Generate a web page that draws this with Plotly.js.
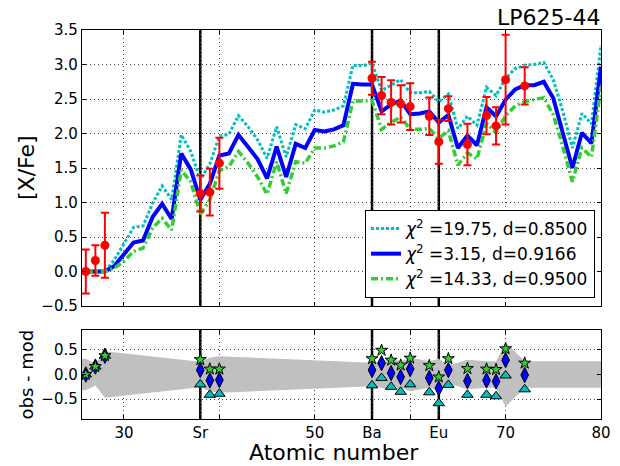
<!DOCTYPE html>
<html>
<head>
<meta charset="utf-8">
<script src="https://cdn.plot.ly/plotly-3.0.1.min.js"></script>
<style>html,body{margin:0;padding:0;background:#fff;}#chart{width:620px;height:466px;}</style>
</head>
<body>
<div id="chart"></div>
<script>
// Model atomic numbers (26..80)
const modelZ = [26,27,28,29,30,31,32,33,34,35,36,37,38,39,40,41,42,43,44,45,46,47,48,49,50,51,52,53,54,55,56,57,58,59,60,61,62,63,64,65,66,67,68,69,70,71,72,73,74,75,76,77,78,79,80];
// chi2 = 19.75, d = 0.8500 (cyan dotted)
const modelCyan = [0,0,0,0.17,0.40,0.64,0.66,0.99,1.24,1.04,1.98,1.74,1.33,1.56,1.96,1.99,2.26,2.10,1.91,1.64,2.10,1.66,2.13,2.07,2.34,2.31,2.34,2.40,2.99,2.98,3.02,2.62,2.70,2.78,2.59,2.59,2.61,2.46,2.57,2.07,2.25,2.12,2.67,2.55,2.80,2.94,2.99,3.00,3.03,2.78,2.32,1.79,2.29,2.14,3.28];
// chi2 = 3.15, d = 0.9166 (blue solid)
const modelBlue = [0,0,0,0.08,0.24,0.42,0.45,0.79,0.98,0.76,1.71,1.48,1.04,1.27,1.68,1.71,1.98,1.80,1.63,1.35,1.81,1.37,1.85,1.79,2.05,2.03,2.06,2.12,2.72,2.71,2.71,2.32,2.42,2.48,2.28,2.29,2.32,2.16,2.27,1.79,1.97,1.83,2.38,2.25,2.49,2.64,2.70,2.70,2.75,2.51,2.01,1.50,2.01,1.86,2.97];
// chi2 = 14.33, d = 0.9500 (green dash-dot)
const modelGreen = [0,0,0,0.05,0.15,0.29,0.34,0.63,0.77,0.60,1.47,1.30,0.83,1.04,1.46,1.52,1.74,1.57,1.37,1.12,1.59,1.13,1.59,1.57,1.79,1.79,1.82,1.88,2.47,2.47,2.48,2.06,2.16,2.24,2.06,2.06,2.07,1.93,2.04,1.54,1.72,1.63,2.15,2.01,2.26,2.40,2.46,2.49,2.52,2.27,1.81,1.30,1.79,1.66,2.68];

// Observations
const obsZ   = [26,27,28,38,39,40,56,57,58,59,60,62,63,64,66,68,69,70,72];
const obsVal = [0.00,0.16,0.38,1.13,1.15,1.57,2.80,2.55,2.45,2.43,2.39,2.25,1.88,2.36,1.84,2.26,2.11,2.78,2.69];
const obsErr = [0.32,0.22,0.47,0.26,0.34,0.37,0.24,0.27,0.32,0.27,0.34,0.27,0.32,0.18,0.30,0.27,0.27,0.65,0.27];

const legendNames = ['<i>χ</i><sup>2</sup> =19.75, d=0.8500','<i>χ</i><sup>2</sup> =3.15, d=0.9166','<i>χ</i><sup>2</sup> =14.33, d=0.9500'];
const tickVals = [30,38,40,50,56,60,63,70,80];
const tickText = ['30','Sr','','50','Ba','','Eu','70','80'];
const markLines = [38,56,63];
const xRange = [25.6,80];
const titleText = 'LP625-44';

const cCyan = '#00bfbf', cBlue = '#0000ff', cGreen = '#32cd32', cRed = '#ff0000';

function modelAt(arr, z){ return arr[modelZ.indexOf(z)]; }
const resid = arr => obsZ.map((z,i)=> obsVal[i] - modelAt(arr, z));

// band from observational errors, extended to axis edges
const bandX = [xRange[0]].concat(obsZ, [xRange[1]]);
const bandE = [obsErr[0]].concat(obsErr, [obsErr[obsErr.length-1]]);

const traces = [
  {x: bandX, y: bandE.map(e=>-e), xaxis:'x2', yaxis:'y2', mode:'lines', line:{width:0,color:'#c0c0c0'}, showlegend:false, hoverinfo:'skip'},
  {x: bandX, y: bandE, xaxis:'x2', yaxis:'y2', mode:'lines', fill:'tonexty', fillcolor:'#c0c0c0', line:{width:0,color:'#c0c0c0'}, showlegend:false, hoverinfo:'skip'},
  {x: modelZ, y: modelCyan, name: legendNames[0], mode:'lines', line:{color:cCyan, width:3, dash:'3px,2px'}, xaxis:'x', yaxis:'y'},
  {x: modelZ, y: modelBlue, name: legendNames[1], mode:'lines', line:{color:cBlue, width:4}, xaxis:'x', yaxis:'y'},
  {x: modelZ, y: modelGreen, name: legendNames[2], mode:'lines', line:{color:cGreen, width:3.5, dash:'7px,3px,2px,3px'}, xaxis:'x', yaxis:'y'},
  {x: obsZ, y: obsVal, mode:'markers', marker:{color:cRed, size:9}, error_y:{type:'data', array:obsErr, visible:true, color:cRed, thickness:2, width:4}, showlegend:false, xaxis:'x', yaxis:'y'},
  {x: obsZ, y: resid(modelCyan), mode:'markers', marker:{symbol:'triangle-up', color:cCyan, size:10, line:{color:'#000', width:1}}, showlegend:false, xaxis:'x2', yaxis:'y2'},
  {x: obsZ, y: resid(modelBlue), mode:'markers', marker:{symbol:'diamond-tall', color:cBlue, size:11, line:{color:'#000', width:1}}, showlegend:false, xaxis:'x2', yaxis:'y2'},
  {x: obsZ, y: resid(modelGreen), mode:'markers', marker:{symbol:'star', color:cGreen, size:9, line:{color:'#000', width:1}}, showlegend:false, xaxis:'x2', yaxis:'y2'}
];

const axCommon = {
  showline:true, linecolor:'#000', linewidth:1.2, mirror:'ticks',
  ticks:'inside', ticklen:4, tickwidth:1, tickcolor:'#000',
  showgrid:true, gridcolor:'#444', gridwidth:1, griddash:'1px,3px',
  zeroline:false,
  tickfont:{family:'DejaVu Sans', size:15, color:'#000'}
};

const shapes = [];
markLines.forEach(z=>{
  shapes.push({type:'line', xref:'x', yref:'y domain', x0:z, x1:z, y0:0, y1:1, line:{color:'#000', width:2.5}, layer:'below'});
  shapes.push({type:'line', xref:'x2', yref:'y2 domain', x0:z, x1:z, y0:0, y1:1, line:{color:'#000', width:2.5}, layer:'below'});
});

const layout = {
  width:620, height:466,
  margin:{l:82, r:19, t:30, b:47},
  paper_bgcolor:'#fff', plot_bgcolor:'#fff',
  font:{family:'DejaVu Sans', color:'#000'},
  showlegend:true,
  legend:{x:0.9884, xanchor:'right', y:0.311, yanchor:'bottom', traceorder:'normal', bgcolor:'#fff', bordercolor:'#000', borderwidth:1,
          font:{family:'DejaVu Sans', size:17, color:'#000'}},
  xaxis: Object.assign({}, axCommon, {domain:[0,1], anchor:'y', range:xRange, tickmode:'array', tickvals:tickVals, ticktext:tickText, showticklabels:false}),
  yaxis: Object.assign({}, axCommon, {domain:[0.2905,1], anchor:'x', range:[-0.5,3.5], dtick:0.5, tick0:0, tickformat:'.1f'}),
  xaxis2: Object.assign({}, axCommon, {domain:[0,1], anchor:'y2', range:xRange, tickmode:'array', tickvals:tickVals, ticktext:tickText}),
  yaxis2: Object.assign({}, axCommon, {domain:[0,0.2288], anchor:'x2', range:[-0.9,0.9], tickmode:'array', tickvals:[-0.5,0,0.5], tickformat:'.1f',
          zeroline:true, zerolinecolor:'#000', zerolinewidth:2}),
  shapes: shapes,
  annotations:[
    {text:titleText, xref:'paper', yref:'paper', x:1, y:1, xanchor:'right', yanchor:'middle', yshift:13, xshift:1, showarrow:false, font:{family:'DejaVu Sans', size:22, color:'#000'}},
    {text:'[X/Fe]', xref:'paper', yref:'paper', x:0, y:0.6452, xanchor:'center', yanchor:'middle', xshift:-56, textangle:-90, showarrow:false, font:{family:'DejaVu Sans', size:22, color:'#000'}},
    {text:'obs - mod', xref:'paper', yref:'paper', x:0, y:0.1144, xanchor:'center', yanchor:'middle', xshift:-56, textangle:-90, showarrow:false, font:{family:'DejaVu Sans', size:18, color:'#000'}},
    {text:'Atomic number', xref:'paper', yref:'paper', x:0.5, y:-0.1208, xanchor:'center', yanchor:'bottom', xshift:-8, borderpad:0, showarrow:false, font:{family:'DejaVu Sans', size:22, color:'#000'}}
  ]
};

Plotly.newPlot('chart', traces, layout, {displayModeBar:false, staticPlot:true});
</script>
</body>
</html>
